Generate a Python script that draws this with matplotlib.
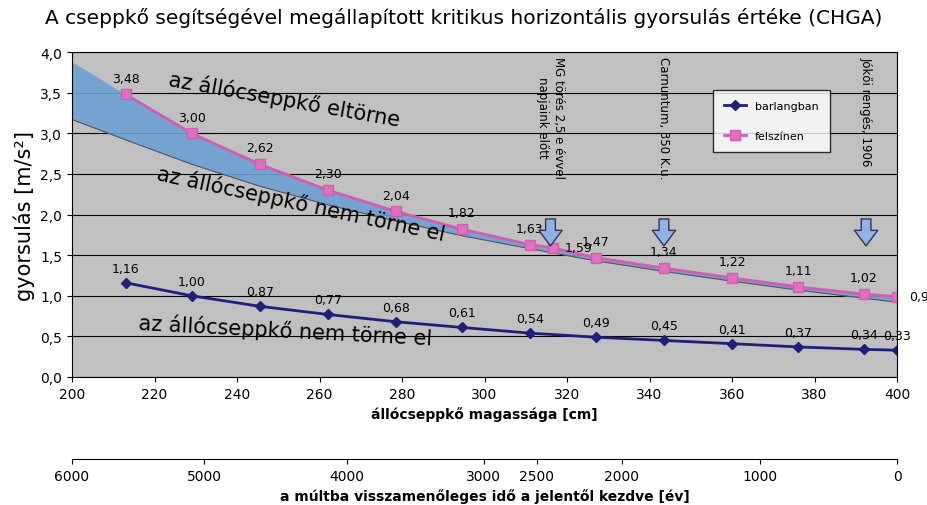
import matplotlib
matplotlib.use("Agg")
import matplotlib.pyplot as plt
import numpy as np

x_pts = [213, 229, 245.5, 262, 278.5, 294.5, 311, 316.5, 327, 343.5, 360, 376, 392, 400]
felszin = [3.48, 3.00, 2.62, 2.30, 2.04, 1.82, 1.63, 1.59, 1.47, 1.34, 1.22, 1.11, 1.02, 0.99]
x_bar = [213, 229, 245.5, 262, 278.5, 294.5, 311, 327, 343.5, 360, 376, 392, 400]
barlang = [1.16, 1.00, 0.87, 0.77, 0.68, 0.61, 0.54, 0.49, 0.45, 0.41, 0.37, 0.34, 0.33]
band_x = [200, 213, 229, 245.5, 262, 278.5, 294.5, 311, 327, 343.5, 360, 376, 392, 400]
band_hi = [3.88, 3.48, 3.00, 2.62, 2.30, 2.04, 1.82, 1.63, 1.47, 1.34, 1.22, 1.11, 1.02, 0.99]
band_lo = [3.17, 2.92, 2.62, 2.35, 2.12, 1.92, 1.74, 1.58, 1.43, 1.30, 1.18, 1.07, 0.97, 0.92]
year_pos = [200, 232, 266.7, 299.8, 312.7, 333.3, 366.7, 400]
year_lbl = ["6000", "5000", "4000", "3000", "2500", "2000", "1000", "0"]

fig = plt.figure(figsize=(9.28, 5.06), dpi=100)
ax = fig.add_axes([0.0776, 0.253, 0.889, 0.642])
ax.set_facecolor("#c0c0c0")
ax.set_xlim(200, 400); ax.set_ylim(0, 4)
ax.set_yticks(np.arange(0, 4.01, 0.5))
ax.set_yticklabels([f"{v:.1f}".replace(".", ",") for v in np.arange(0, 4.01, 0.5)])
ax.set_xticks(range(200, 401, 20))
ax.grid(axis="y", color="black", lw=0.8)
ax.set_axisbelow(True)
ax.fill_between(band_x, band_lo, band_hi, color="#6c9fd4", alpha=0.9, lw=0)
ax.plot(band_x, band_lo, color="#555555", lw=0.8)
ax.plot(x_bar, barlang, color="#1f1f7a", lw=2, marker="D", ms=5, label="barlangban")
ax.plot(x_pts, felszin, color="#d45bb0", lw=2, marker="s", ms=7, mfc="#e070c0", label="felszínen")
for xx, v in zip(x_pts, felszin):
    side = xx in (316.5, 400)
    ax.text(xx + (3 if side else 0), v + (0.0 if side else 0.12),
            f"{v:.2f}".replace(".", ","), ha="left" if side else "center",
            va="center" if side else "bottom", fontsize=9)
for xx, v in zip(x_bar, barlang):
    ax.text(xx, v + 0.1, f"{v:.2f}".replace(".", ","), ha="center", va="bottom", fontsize=9)
ax.text(223, 3.1, "az állócseppkő eltörne", fontsize=15, rotation=-10)
ax.text(220, 1.68, "az állócseppkő nem törne el", fontsize=15, rotation=-12)
ax.text(216, 0.4, "az állócseppkő nem törne el", fontsize=15, rotation=-3)
for xx, lbl in [(316, "MG törés 2,5 e évvel\nnapjaink előtt"), (343.5, "Carnuntum, 350 K.u."), (392.5, "Jókői rengés, 1906")]:
    ax.annotate("", xy=(xx, 1.58), xytext=(xx, 1.98),
                arrowprops=dict(arrowstyle="simple,head_length=0.8,head_width=1.2,tail_width=0.5",
                                fc="#8fb4e3", ec="#333355", mutation_scale=14))
    ax.text(xx, 3.95, lbl, rotation=-90, ha="center", va="top", fontsize=8.5)
ax.legend(loc="upper left", bbox_to_anchor=(0.77, 0.9), fontsize=8, frameon=True,
          edgecolor="black", fancybox=False, labelspacing=1.8, borderpad=1)
ax.set_ylabel("gyorsulás [m/s²]", fontsize=15)
ax.set_xlabel("állócseppkő magassága [cm]", fontsize=10, fontweight="bold")
ax.tick_params(labelsize=10)
fig.text(0.5, 0.965, "A cseppkő segítségével megállapított kritikus horizontális gyorsulás értéke (CHGA)",
         ha="center", va="center", fontsize=14.5)

ax2 = fig.add_axes([0.0776, 0.091, 0.889, 0.001])
ax2.set_xlim(200, 400)
ax2.set_yticks([])
for s in ["left", "right", "top"]:
    ax2.spines[s].set_visible(False)
ax2.set_xticks(year_pos)
ax2.set_xticklabels(year_lbl, fontsize=10)
ax2.set_xlabel("a múltba visszamenőleges idő a jelentől kezdve [év]", fontsize=10, fontweight="bold")
fig.savefig("out.png", dpi=100)
